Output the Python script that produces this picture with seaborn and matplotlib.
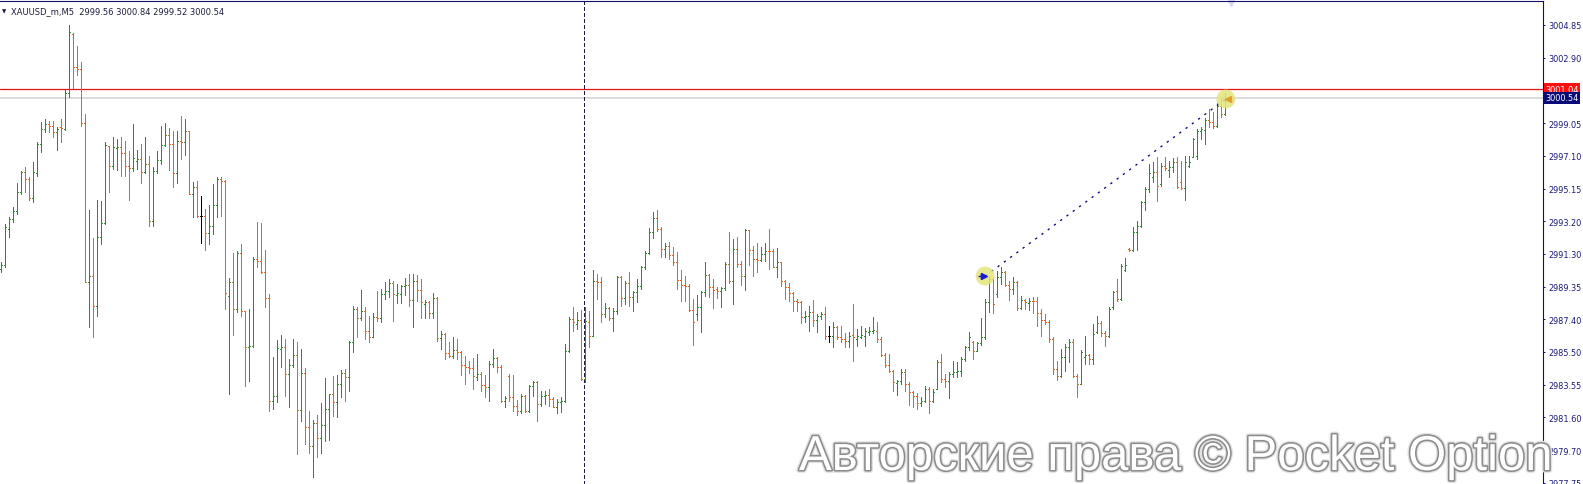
import numpy as np
import pandas as pd
import matplotlib
matplotlib.use("Agg")
import matplotlib.pyplot as plt
import seaborn as sns
from matplotlib import patheffects as pe
from matplotlib.transforms import blended_transform_factory

symbol = "XAUUSD_m,M5"

opens = [2990.40, 2990.66, 2992.77, 2993.36, 2993.86, 2994.94, 2996.13, 2995.73, 2994.59, 2996.07,
         2997.80, 2998.69, 2998.99, 2998.89, 2998.50, 2998.79, 2998.69, 3000.80, 3004.32, 3002.34,
         3002.22, 2999.03, 2989.65, 2989.97, 2988.19, 2992.32, 2993.11, 2997.71, 2996.52, 2997.57,
         2997.65, 2997.25, 2996.52, 2996.38, 2996.82, 2996.92, 2996.13, 2996.62, 2993.27, 2996.19,
         2996.86, 2997.75, 2998.36, 2997.80, 2996.07, 2998.00, 2997.90, 2998.55, 2994.84, 2995.24,
         2993.52, 2993.52, 2992.52, 2992.97, 2994.19, 2995.73, 2995.63, 2988.83, 2989.62, 2988.04,
         2991.33, 2987.90, 2985.77, 2985.87, 2991.00, 2990.90, 2990.21, 2988.69, 2982.61, 2982.91,
         2985.67, 2985.77, 2984.19, 2984.74, 2985.33, 2982.06, 2984.23, 2981.07, 2979.95, 2981.27,
         2980.40, 2981.19, 2982.12, 2983.00, 2982.51, 2983.60, 2984.23, 2984.03, 2986.06, 2988.04,
         2987.50, 2987.94, 2986.75, 2986.40, 2987.54, 2987.50, 2988.92, 2989.12, 2989.56, 2988.88,
         2988.92, 2989.42, 2989.48, 2988.57, 2989.71, 2989.16, 2988.33, 2988.43, 2987.78, 2988.69,
         2986.32, 2986.56, 2985.41, 2985.27, 2985.61, 2985.47, 2984.74, 2984.62, 2984.54, 2984.03,
         2984.19, 2983.56, 2983.44, 2984.78, 2985.14, 2984.62, 2982.61, 2984.09, 2982.81, 2982.31,
         2982.02, 2982.91, 2982.02, 2983.50, 2983.70, 2982.41, 2982.91, 2982.97, 2982.71, 2982.26,
         2982.51, 2982.61, 2985.57, 2987.44, 2987.15, 2987.39, 2983.89, 2987.25, 2986.46, 2989.71,
         2989.62, 2987.74, 2988.10, 2987.50, 2987.90, 2989.91, 2988.69, 2989.56, 2988.73, 2989.02,
         2989.42, 2990.50, 2991.33, 2992.58, 2993.42, 2992.77, 2991.59, 2991.79, 2991.25, 2990.80,
         2989.75, 2989.48, 2989.42, 2987.98, 2987.74, 2988.17, 2989.02, 2990.07, 2989.32, 2989.20,
         2989.08, 2989.28, 2990.70, 2989.71, 2991.59, 2990.70, 2990.01, 2992.71, 2991.53, 2991.00,
         2990.94, 2991.29, 2991.49, 2991.45, 2990.54, 2990.80, 2989.71, 2989.36, 2988.96, 2988.49,
         2988.43, 2987.58, 2987.64, 2987.84, 2987.39, 2987.64, 2987.74, 2986.46, 2986.46, 2986.95,
         2986.40, 2986.26, 2986.16, 2986.52, 2986.26, 2986.40, 2986.46, 2986.65, 2986.71, 2986.75,
         2986.26, 2985.33, 2984.74, 2984.39, 2983.64, 2983.75, 2984.29, 2983.60, 2983.10, 2982.91,
         2982.45, 2982.61, 2983.30, 2982.61, 2983.30, 2984.88, 2983.89, 2983.79, 2984.19, 2984.29,
         2984.35, 2985.08, 2985.77, 2986.06, 2985.57, 2986.00, 2986.40, 2988.43, 2989.81, 2988.92,
         2989.91, 2990.21, 2989.48, 2989.22, 2989.62, 2988.10, 2988.57, 2988.37, 2988.53, 2988.49,
         2987.78, 2987.39, 2987.25, 2986.26, 2984.48, 2984.09, 2985.18, 2985.81, 2986.06, 2984.09,
         2983.60, 2985.18, 2985.33, 2985.08, 2986.66, 2987.19, 2986.60, 2986.46, 2988.13, 2989.12,
         2988.63, 2990.35, 2991.59, 2991.53, 2992.58, 2992.97, 2994.35, 2995.14, 2995.87, 2996.13,
         2995.44, 2996.52, 2996.27, 2996.46, 2996.72, 2995.54, 2995.20, 2996.52, 2997.02, 2997.11,
         2998.55, 2998.63, 2999.23, 2999.09, 2998.89, 3000.05, 2999.56]

highs = [2990.80, 2993.07, 2993.46, 2994.09, 2995.50, 2996.19, 2996.46, 2995.87, 2996.72, 2997.90,
         2999.09, 2999.28, 2999.19, 2999.15, 2998.79, 2999.28, 3001.00, 3004.85, 3004.38, 3003.61,
         3002.64, 2999.58, 2993.90, 2992.24, 2994.49, 2994.45, 2997.94, 2997.71, 2998.20, 2998.10,
         2998.24, 2998.00, 2997.41, 2998.99, 2997.45, 2997.80, 2998.20, 2997.11, 2996.46, 2997.41,
         2998.89, 2999.05, 2998.75, 2998.59, 2998.55, 2999.48, 2999.28, 2998.59, 2995.54, 2995.63,
         2994.75, 2993.96, 2994.21, 2995.44, 2995.83, 2995.87, 2995.67, 2989.87, 2991.33, 2991.49,
         2991.88, 2987.94, 2988.04, 2991.10, 2993.17, 2993.11, 2991.53, 2988.92, 2985.18, 2986.20,
         2986.52, 2986.26, 2985.08, 2986.26, 2986.06, 2985.67, 2984.54, 2982.02, 2981.47, 2981.78,
         2982.45, 2983.95, 2983.00, 2984.09, 2984.15, 2984.43, 2984.48, 2986.16, 2988.23, 2988.13,
         2989.16, 2988.13, 2987.64, 2987.78, 2989.12, 2989.22, 2989.62, 2989.81, 2989.71, 2989.52,
         2989.48, 2989.87, 2990.11, 2990.11, 2990.07, 2989.81, 2988.57, 2988.49, 2988.96, 2988.77,
         2986.71, 2986.60, 2986.06, 2986.40, 2986.26, 2985.53, 2985.27, 2984.94, 2985.14, 2985.37,
         2984.29, 2984.15, 2984.98, 2985.67, 2985.21, 2984.74, 2982.91, 2984.19, 2984.15, 2982.65,
         2983.00, 2982.97, 2983.56, 2983.79, 2983.79, 2983.20, 2983.16, 2983.30, 2982.81, 2982.71,
         2982.81, 2985.96, 2987.54, 2988.13, 2987.88, 2987.98, 2988.13, 2987.94, 2990.35, 2990.11,
         2989.91, 2988.37, 2988.13, 2988.10, 2990.01, 2990.01, 2989.71, 2990.25, 2989.12, 2989.81,
         2990.60, 2991.49, 2992.83, 2993.76, 2993.92, 2992.87, 2991.92, 2991.98, 2991.69, 2991.39,
         2990.35, 2990.01, 2989.52, 2988.63, 2988.88, 2989.12, 2990.80, 2990.11, 2989.81, 2989.36,
         2989.32, 2990.80, 2992.58, 2992.18, 2992.32, 2990.90, 2992.77, 2992.73, 2991.79, 2991.92,
         2991.69, 2991.92, 2992.77, 2991.59, 2991.65, 2990.80, 2989.75, 2989.56, 2989.02, 2988.63,
         2988.49, 2987.90, 2988.23, 2988.57, 2987.74, 2987.84, 2988.17, 2987.05, 2987.25, 2987.05,
         2987.05, 2986.60, 2986.66, 2988.33, 2986.85, 2987.05, 2986.91, 2986.95, 2987.54, 2987.25,
         2986.36, 2985.41, 2985.37, 2984.43, 2983.83, 2984.48, 2984.48, 2983.70, 2983.20, 2983.04,
         2982.85, 2983.50, 2983.40, 2983.30, 2985.02, 2985.37, 2984.19, 2984.29, 2984.94, 2984.88,
         2985.18, 2985.87, 2986.66, 2986.12, 2986.06, 2987.50, 2988.63, 2990.01, 2989.91, 2990.27,
         2990.50, 2990.31, 2989.71, 2989.91, 2989.71, 2988.83, 2988.63, 2988.69, 2988.73, 2988.73,
         2988.04, 2987.74, 2987.39, 2986.36, 2984.98, 2985.67, 2985.96, 2986.26, 2986.26, 2984.19,
         2985.61, 2986.46, 2985.37, 2987.15, 2987.64, 2987.35, 2986.75, 2988.13, 2989.12, 2989.81,
         2990.70, 2991.06, 2991.63, 2992.87, 2993.27, 2994.45, 2995.28, 2996.62, 2996.72, 2997.05,
         2996.66, 2997.05, 2996.82, 2996.98, 2997.02, 2996.82, 2997.11, 2997.11, 2998.16, 2998.69,
         2998.79, 2999.34, 2999.88, 2999.68, 3000.21, 3000.45, 3000.84]

lows = [2990.21, 2990.50, 2992.28, 2993.17, 2993.66, 2994.84, 2994.94, 2994.49, 2994.35, 2995.93,
        2997.31, 2998.50, 2998.50, 2998.20, 2997.45, 2997.94, 2998.63, 3000.57, 3001.12, 3001.91,
        2998.89, 2989.62, 2986.99, 2986.40, 2987.64, 2991.88, 2993.07, 2994.94, 2996.32, 2996.27,
        2995.93, 2995.93, 2994.51, 2996.23, 2996.32, 2995.48, 2996.07, 2992.97, 2992.97, 2996.07,
        2996.62, 2997.71, 2996.27, 2995.24, 2995.48, 2996.92, 2997.17, 2994.84, 2993.46, 2993.50,
        2991.94, 2991.55, 2991.88, 2992.48, 2993.50, 2993.56, 2988.04, 2983.00, 2986.52, 2987.84,
        2987.64, 2983.50, 2983.79, 2985.81, 2990.50, 2990.15, 2988.17, 2981.98, 2982.12, 2982.51,
        2984.58, 2982.91, 2982.22, 2984.58, 2979.45, 2981.43, 2980.04, 2979.49, 2978.07, 2979.30,
        2979.49, 2980.24, 2980.28, 2981.72, 2981.66, 2982.81, 2982.57, 2983.20, 2985.47, 2986.36,
        2987.39, 2986.26, 2986.06, 2986.36, 2987.35, 2987.25, 2988.63, 2988.73, 2987.31, 2988.37,
        2988.37, 2988.88, 2988.23, 2986.99, 2988.49, 2987.50, 2987.50, 2987.50, 2987.50, 2986.12,
        2985.67, 2985.08, 2985.18, 2985.14, 2985.08, 2984.15, 2983.60, 2984.23, 2983.30, 2983.83,
        2983.20, 2982.81, 2982.61, 2984.62, 2984.29, 2982.51, 2982.26, 2982.61, 2982.02, 2981.78,
        2981.86, 2981.92, 2981.92, 2982.91, 2981.43, 2982.31, 2982.41, 2982.31, 2982.22, 2981.86,
        2981.92, 2982.51, 2985.47, 2986.71, 2986.85, 2983.83, 2983.70, 2985.77, 2986.46, 2988.63,
        2987.25, 2987.54, 2987.39, 2986.71, 2987.74, 2988.23, 2988.33, 2988.23, 2987.94, 2988.43,
        2989.22, 2990.40, 2991.29, 2992.24, 2992.67, 2991.13, 2991.13, 2991.00, 2990.66, 2989.22,
        2988.53, 2988.53, 2987.94, 2985.92, 2987.39, 2986.66, 2988.83, 2988.77, 2988.10, 2988.69,
        2988.13, 2989.16, 2989.56, 2988.33, 2990.54, 2989.48, 2989.16, 2990.66, 2989.97, 2990.21,
        2990.90, 2990.86, 2990.40, 2990.50, 2989.91, 2989.42, 2988.63, 2988.49, 2987.90, 2987.94,
        2987.19, 2987.25, 2986.71, 2987.05, 2986.66, 2987.44, 2986.26, 2986.06, 2985.81, 2986.26,
        2986.06, 2985.77, 2985.77, 2984.94, 2985.87, 2986.32, 2985.87, 2986.52, 2986.60, 2986.06,
        2985.27, 2984.62, 2984.29, 2983.20, 2982.97, 2983.60, 2983.20, 2982.37, 2982.22, 2982.12,
        2982.31, 2982.51, 2981.86, 2982.51, 2983.30, 2983.70, 2983.40, 2982.77, 2983.99, 2984.03,
        2984.09, 2984.98, 2985.61, 2985.08, 2985.57, 2985.92, 2986.26, 2987.84, 2987.78, 2988.77,
        2989.52, 2989.42, 2988.57, 2988.92, 2987.98, 2988.04, 2988.04, 2987.98, 2987.78, 2987.05,
        2986.46, 2987.15, 2986.06, 2984.19, 2983.83, 2983.99, 2984.39, 2984.88, 2984.03, 2982.81,
        2983.60, 2984.78, 2984.78, 2984.78, 2986.60, 2986.46, 2985.87, 2986.40, 2988.04, 2988.53,
        2988.57, 2990.27, 2991.49, 2991.49, 2991.53, 2992.87, 2993.90, 2994.94, 2995.54, 2994.45,
        2995.34, 2996.27, 2995.83, 2996.13, 2995.20, 2995.14, 2994.49, 2996.46, 2997.02, 2996.92,
        2998.10, 2997.80, 2998.79, 2998.75, 2998.79, 2999.42, 2999.52]

closes = [2990.66, 2992.87, 2993.36, 2993.86, 2994.94, 2996.13, 2995.73, 2994.59, 2996.17, 2997.80,
          2998.69, 2998.99, 2998.89, 2998.50, 2998.69, 2998.73, 3000.80, 3004.42, 3002.34, 3002.22,
          2999.03, 2989.65, 2989.97, 2988.19, 2992.32, 2993.11, 2997.77, 2996.52, 2997.61, 2997.65,
          2997.25, 2996.52, 2996.38, 2996.98, 2996.92, 2996.13, 2996.62, 2993.27, 2996.19, 2996.86,
          2997.75, 2998.36, 2997.80, 2996.07, 2997.96, 2997.90, 2998.59, 2994.84, 2995.24, 2993.56,
          2993.52, 2992.52, 2992.97, 2994.19, 2995.73, 2995.63, 2988.96, 2989.62, 2988.04, 2991.33,
          2987.90, 2985.77, 2985.87, 2991.00, 2990.90, 2990.21, 2988.69, 2982.61, 2982.91, 2985.73,
          2985.77, 2984.19, 2984.74, 2985.33, 2982.06, 2984.23, 2981.07, 2979.95, 2981.27, 2980.40,
          2981.19, 2982.12, 2983.00, 2982.51, 2983.60, 2984.23, 2984.03, 2986.06, 2988.04, 2987.50,
          2987.94, 2986.75, 2986.40, 2987.54, 2987.50, 2988.92, 2989.12, 2989.56, 2988.92, 2988.96,
          2989.42, 2989.48, 2988.57, 2989.71, 2989.16, 2988.43, 2988.43, 2987.78, 2988.69, 2986.32,
          2986.56, 2985.41, 2985.27, 2985.61, 2985.47, 2984.74, 2984.62, 2984.54, 2984.09, 2984.19,
          2983.56, 2983.44, 2984.78, 2985.14, 2984.62, 2982.61, 2982.77, 2982.81, 2982.31, 2982.02,
          2982.91, 2982.02, 2983.50, 2983.70, 2982.41, 2982.91, 2982.97, 2982.71, 2982.26, 2982.51,
          2982.61, 2985.57, 2987.44, 2987.25, 2987.39, 2983.89, 2987.35, 2986.46, 2989.71, 2989.62,
          2987.74, 2988.10, 2987.50, 2987.90, 2989.91, 2988.69, 2989.56, 2988.73, 2989.02, 2989.42,
          2990.50, 2991.33, 2992.58, 2993.42, 2992.77, 2991.59, 2991.79, 2991.25, 2990.80, 2989.75,
          2989.48, 2989.42, 2987.98, 2987.25, 2988.17, 2989.02, 2990.07, 2989.32, 2989.16, 2989.08,
          2989.28, 2990.70, 2989.71, 2991.59, 2990.70, 2990.01, 2992.71, 2991.53, 2991.00, 2990.94,
          2991.29, 2991.49, 2991.45, 2990.54, 2990.80, 2989.71, 2989.36, 2988.96, 2988.49, 2988.43,
          2987.58, 2987.64, 2987.84, 2987.39, 2987.64, 2987.74, 2986.46, 2986.46, 2986.95, 2986.40,
          2986.26, 2986.16, 2986.46, 2986.40, 2986.46, 2986.52, 2986.71, 2986.75, 2986.79, 2986.26,
          2985.33, 2984.74, 2984.39, 2983.70, 2983.75, 2984.29, 2983.60, 2983.10, 2982.91, 2982.45,
          2982.61, 2983.30, 2982.61, 2983.10, 2984.88, 2983.89, 2983.79, 2984.19, 2984.29, 2984.35,
          2985.08, 2985.77, 2986.36, 2985.57, 2986.00, 2986.40, 2988.43, 2989.81, 2988.33, 2989.91,
          2990.21, 2989.48, 2989.22, 2989.62, 2988.10, 2988.57, 2988.43, 2988.53, 2988.49, 2987.78,
          2987.39, 2987.25, 2986.26, 2984.48, 2984.09, 2985.18, 2985.81, 2986.06, 2984.09, 2983.60,
          2985.47, 2985.33, 2985.08, 2986.56, 2987.19, 2986.60, 2986.46, 2988.04, 2989.02, 2988.63,
          2990.60, 2990.66, 2991.53, 2992.58, 2992.97, 2994.35, 2995.14, 2996.07, 2996.13, 2995.34,
          2996.52, 2996.38, 2996.46, 2996.72, 2995.24, 2995.20, 2996.72, 2996.72, 2998.10, 2998.59,
          2998.67, 2999.23, 2999.09, 2998.89, 3000.07, 2999.56, 3000.54]

# horizontal price levels
alert_level = 3001.04
bid_level = 3000.54

# trend line anchors (bar index, price)
trend_x = [246.1, 306.3]
trend_y = [2989.99, 3000.47]

# period separator (bar index)
separator_x = 145.9

# chart-shift marker (bar index)
shift_marker_x = 307.6

# right axis ticks
ytick_values = [3004.85, 3002.91, 2999.04, 2997.11, 2995.17, 2993.24, 2991.30, 2989.37,
                2987.43, 2985.50, 2983.56, 2981.63, 2979.69, 2977.76]
ytick_labels = ["3004.85", "3002.90", "2999.05", "2997.10", "2995.15", "2993.20", "2991.30",
                "2989.35", "2987.40", "2985.50", "2983.55", "2981.60", "2979.70", "2977.75"]

watermark = "Авторские права © Pocket Option"

# ---------------------------------------------------------------
sns.set_style("white")
plt.rcParams['font.family'] = ['DejaVu Sans']

GREEN = '#2e8a2a'
ORANGE = '#e8621e'
NAVY = '#10106a'

df = pd.DataFrame({'open': opens, 'high': highs, 'low': lows, 'close': closes})
df['x'] = np.arange(len(df))
df['color'] = np.where(df['close'] > df['open'], GREEN,
                       np.where(df['close'] < df['open'], ORANGE, 'black'))

W, H = 1583, 485
fig = plt.figure(figsize=(W / 100, H / 100), dpi=100)
ax = fig.add_axes([0, 0, 1543 / W, 483 / H])
ax.set_xlim(-0.175, 385.575)
ax.set_ylim(2977.68, 3006.27)

# level lines
ax.axhline(bid_level, color='#d2d2d2', lw=1.1, zorder=1)
ax.axhline(alert_level, color='#e01414', lw=0.9, zorder=1)
ax.axvline(separator_x, color='#1a1a4a', lw=0.8, linestyle=(0, (3, 2.5)), zorder=1,
           antialiased=False)

# OHLC bars
lw = 0.7
ax.vlines(df['x'], df['low'], df['high'], colors=df['color'], linewidth=lw,
          antialiased=False, zorder=3)
ax.hlines(df['open'], df['x'] - 0.26, df['x'], colors=df['color'], linewidth=lw,
          antialiased=False, zorder=3)
ax.hlines(df['close'], df['x'], df['x'] + 0.26, colors=df['color'], linewidth=lw,
          antialiased=False, zorder=3)

# trend line with anchor circles
tdf = pd.DataFrame({'x': trend_x, 'y': trend_y})
sns.lineplot(data=tdf, x='x', y='y', ax=ax, color='#0a0a80', lw=1.0,
             linestyle=(0, (1.6, 4.0)), zorder=4, legend=False)
sns.scatterplot(data=tdf, x='x', y='y', ax=ax, s=185, color='#e4e47a', alpha=0.85,
                edgecolor='none', zorder=5, legend=False)
ax.plot([trend_x[0] - 0.4], [trend_y[0]], marker='>', ms=4.5, color='#1c1cd0',
        zorder=6, linestyle='none')
ax.plot([trend_x[0] - 1.0], [trend_y[0]], marker='+', ms=4.5, mew=1.0, color='#1c1cd0',
        zorder=6, linestyle='none')
ax.plot([trend_x[1] + 0.4], [trend_y[1]], marker='<', ms=4.5, color='#e0a030',
        zorder=6, linestyle='none')

# chart shift marker at the top edge
tt = blended_transform_factory(ax.transData, ax.transAxes)
ax.plot([shift_marker_x], [0.995], marker='v', ms=5, color='#d4d8f0', transform=tt,
        zorder=2, linestyle='none', clip_on=False)

# spines
for s in ['left', 'bottom']:
    ax.spines[s].set_visible(False)
for s in ['top', 'right']:
    ax.spines[s].set_visible(True)
    ax.spines[s].set_color(NAVY)
    ax.spines[s].set_linewidth(0.8)

ax.set_xticks([])
ax.yaxis.tick_right()
ax.set_yticks(ytick_values)
ax.set_yticklabels(ytick_labels)
ax.tick_params(axis='y', direction='out', length=1.6, width=0.7, color=NAVY, pad=2.3,
               labelsize=5.9, labelcolor='#1a1a7a')
ax.set_xlabel('')
ax.set_ylabel('')
ax.grid(False)

# price boxes on the axis
bt = blended_transform_factory(ax.transAxes, ax.transData)
ax.text(1.0016, alert_level, f"{alert_level:.2f}", transform=bt, ha='left', va='center',
        fontsize=5.9, color='white', zorder=10, clip_on=False,
        bbox=dict(boxstyle='square,pad=0.18', fc='#ff1010', ec='none'))
ax.text(1.0016, bid_level, f"{bid_level:.2f}", transform=bt, ha='left', va='center',
        fontsize=5.9, color='white', zorder=10, clip_on=False,
        bbox=dict(boxstyle='square,pad=0.18', fc='#0a0a78', ec='none'))

# header
last = df.iloc[-1]
fig.text(1.5 / W, 1 - 11.5 / H, "\u25BC", fontsize=4, color='#1c1c3c', va='center', ha='left')
fig.text(11 / W, 1 - 11.5 / H,
         f"{symbol}  {last['open']:.2f} {last['high']:.2f} {last['low']:.2f} {last['close']:.2f}",
         fontsize=6.0, color='#1c1c3c', va='center', ha='left')

# watermark
fig.text(799 / W, 1 - 471 / H, watermark, family=['Liberation Sans', 'DejaVu Sans'],
         fontsize=35.3, color='white', va='baseline', ha='left', zorder=20,
         path_effects=[pe.Stroke(linewidth=4.2, foreground='#e2e2e2'),
                       pe.Stroke(linewidth=2.3, foreground='#8c8c8c'),
                       pe.Normal()])

fig.savefig('out.png', dpi=100)
